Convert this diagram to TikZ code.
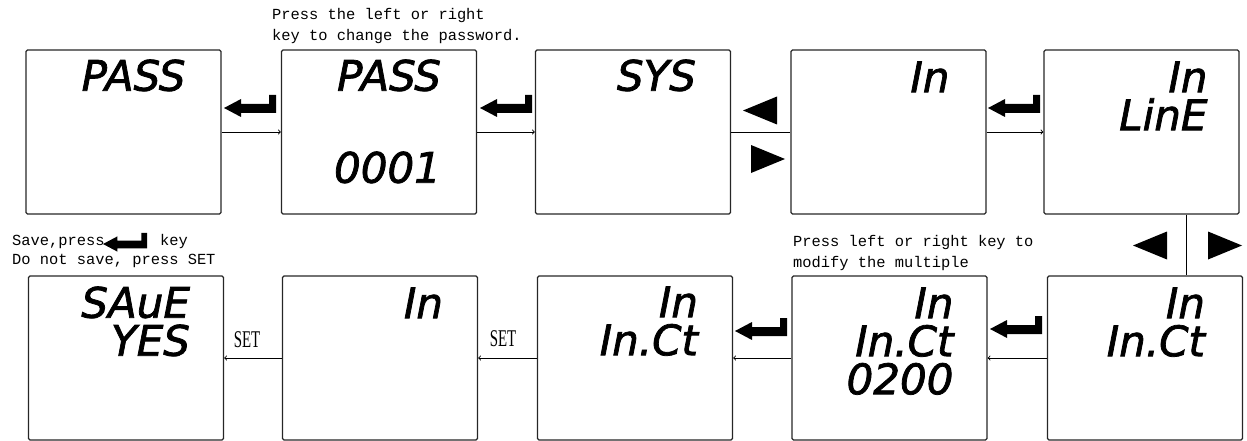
\documentclass[tikz,border=0pt]{standalone}
\usepackage{fontspec}
\newfontfamily\lcdfont{DejaVu Sans}[FakeBold=1.8]
\newfontfamily\hintfont{Liberation Mono}
\newfontfamily\keyfont{Liberation Serif}[FakeStretch=0.62]
\tikzset{
  lcdbox/.style={draw=black!85,line width=1.3pt,rounded corners=1.5pt,minimum width=195pt,minimum height=164pt,inner sep=0pt},
  lcdtext/.style={anchor=north east,inner sep=0pt,align=right,font=\lcdfont\itshape\fontsize{42}{38}\selectfont},
  hint/.style={inner sep=0pt,align=left,font=\hintfont\fontsize{15.4}{21}\selectfont},
  keylabel/.style={inner sep=0pt,font=\keyfont\fontsize{24}{26}\selectfont},
  flow/.style={->,line width=0.9pt},
  enterkey/.pic={\fill (0,0) -- (17,-9) -- (17,-4) -- (45,-4) -- (45,-13) -- (52,-13) -- (52,5) -- (17,5) -- (17,9) -- cycle;},
  leftkey/.pic={\fill (0,0) -- (34,-14) -- (34,14) -- cycle;},
  rightkey/.pic={\fill (0,0) -- (-34,-14) -- (-34,14) -- cycle;}
}
\begin{document}
\begin{tikzpicture}[x=1pt,y=-1pt]
    \useasboundingbox (0,0) rectangle (1247,441);
    % top row
    \node[lcdbox] (passbox) at (123.5,132) {};
    \node[lcdbox] (pwdbox) at (379,132) {};
    \node[lcdbox] (sysbox) at (633,132) {};
    \node[lcdbox] (inbox) at (888.5,132) {};
    \node[lcdbox] (linebox) at (1141.5,132) {};
    % bottom row
    \node[lcdbox] (savebox) at (126,358) {};
    \node[lcdbox] (inretbox) at (380,358) {};
    \node[lcdbox] (ctretbox) at (635,358) {};
    \node[lcdbox] (ctsetbox) at (889.5,358) {};
    \node[lcdbox] (ctbox) at (1145,358) {};

    \node[lcdtext] (passtxt) at ([xshift=-36pt,yshift=-10pt]passbox.north east) {PASS};
    \node[lcdtext] (pwdtxt) at ([xshift=-36pt,yshift=-10pt]pwdbox.north east) {PASS\\[54pt]0001};
    \node[lcdtext] (systxt) at ([xshift=-35pt,yshift=-10pt]sysbox.north east) {SYS};
    \node[lcdtext] (intxt) at ([xshift=-37pt,yshift=-12pt]inbox.north east) {In};
    \node[lcdtext] (linetxt) at ([xshift=-32pt,yshift=-12pt]linebox.north east) {In\\LinE};
    \node[lcdtext] (savetxt) at ([xshift=-34pt,yshift=-11pt]savebox.north east) {SAuE\\YES};
    \node[lcdtext] (inrettxt) at ([xshift=-35pt,yshift=-12pt]inretbox.north east) {In};
    \node[lcdtext] (ctrettxt) at ([xshift=-35pt,yshift=-11pt]ctretbox.north east) {In\\In.Ct};
    \node[lcdtext] (ctsettxt) at ([xshift=-34pt,yshift=-12pt]ctsetbox.north east) {In\\In.Ct\\0200};
    \node[lcdtext] (cttxt) at ([xshift=-38pt,yshift=-12pt]ctbox.north east) {In\\In.Ct};

    \draw[flow] (passbox) -- (pwdbox);
    \draw[flow] (pwdbox) -- (sysbox);
    \draw[line width=0.9pt] (sysbox) -- (inbox);
    \draw[flow] (inbox) -- (linebox);
    \coordinate (vtop) at ([xshift=44.5pt]linebox.south);
    \draw[line width=0.9pt] (vtop) -- (vtop |- ctbox.north);
    \draw[flow] (ctbox) -- (ctsetbox);
    \draw[flow] (ctsetbox) -- (ctretbox);
    \draw[flow] (ctretbox) -- (inretbox);
    \draw[flow] (inretbox) -- (savebox);

    \pic at (224,108) {enterkey};
    \pic at (480,108) {enterkey};
    \pic at (988,108) {enterkey};
    \pic at (990,329) {enterkey};
    \pic at (735,331) {enterkey};
    \pic at (743,110.5) {leftkey};
    \pic at (785,159) {rightkey};
    \pic at (1133,245.5) {leftkey};
    \pic at (1242,245.5) {rightkey};

    \node[keylabel] (setone) at (247,340) {SET};
    \node[keylabel] (settwo) at (503,339) {SET};

    \node[hint,anchor=north west] (pwdhint) at (272,8) {Press the left or right\\key to change the password.};
    \node[hint,anchor=north west] (cthint) at (793,235) {Press left or right key to\\modify the multiple};
    \node[hint,anchor=west] (savehint) at (12,242) {Save,press};
    \pic[scale=0.85] at (103,244) {enterkey};
    \node[hint,anchor=west] (keyhint) at (160,242) {key};
    \node[hint,anchor=west] (nosavehint) at (12,261) {Do not save, press SET};
\end{tikzpicture}
\end{document}
